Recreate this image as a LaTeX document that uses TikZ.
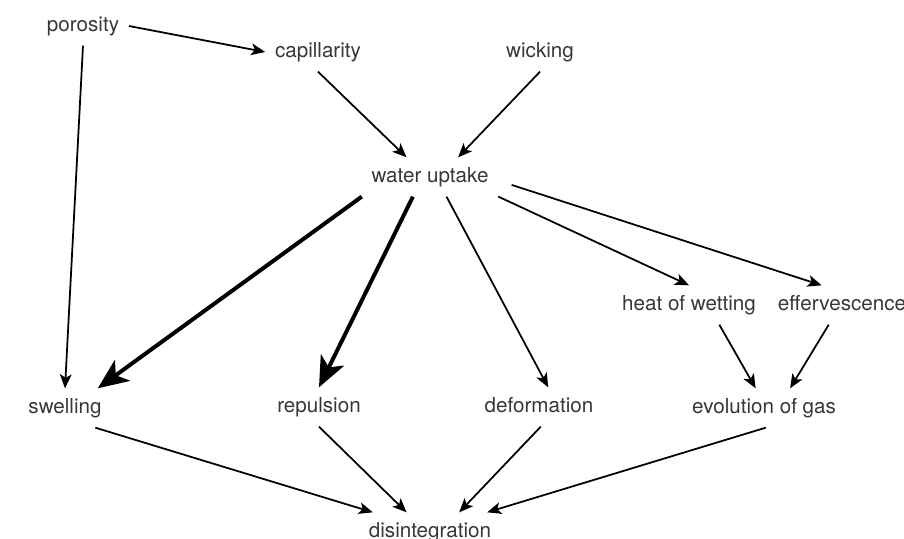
\documentclass[tikz,border=0pt]{standalone}
\usepackage{fontspec}
\setmainfont{TeX Gyre Heros}
\usepackage{tikz}
\usetikzlibrary{arrows.meta}
\definecolor{labelgray}{RGB}{55,55,55}

\begin{document}
\begin{tikzpicture}[x = 0.015cm , y = -0.015cm ,
    term/.style = {inner sep = 4pt , text height = 6.5pt , text depth = 1.9pt ,
                   text = labelgray , font = \fontsize{8.8}{10}\selectfont} ,
    link/.style = {line width = 0.75pt , -{Stealth[length = 6pt , width = 5pt , inset = 1.5pt]}} ,
    strong/.style = {line width = 1.7pt , -{Stealth[length = 13pt , width = 11pt , inset = 3.5pt]}}]
    \useasboundingbox (0,0) rectangle (904,539);
    % Ετικέτες
    \node[term] (poro) at (83,26) {porosity};
    \node[term] (cap) at (318,52) {capillarity};
    \node[term] (wick) at (540,52) {wicking};
    \node[term] (wu) at (430,177) {water uptake};
    \node[term] (heat) at (689,305) {heat of wetting};
    \node[term] (eff) at (842,305) {effervescence};
    \node[term] (swel) at (65,408) {swelling};
    \node[term] (rep) at (319,407) {repulsion};
    \node[term] (def) at (539,407) {deformation};
    \node[term] (evo) at (764,408) {evolution of gas};
    \node[term] (dis) at (430,532) {disintegration};
    % Βέλη
    \draw[link] (poro.east) -- (cap.west);
    \draw[link] (poro.south) -- (swel.north);
    \draw[link] (cap.south) -- (wu.140);
    \draw[link] (wick.south) -- (wu.35);
    \draw[strong] (wu.south west) -- (swel.31);
    \draw[strong] (wu.-131) -- (rep.north);
    \draw[link] (wu.-50) -- (def.65);
    \draw[link] (wu.-16) -- (heat.north);
    \draw[link , shorten <= 6pt] (wu.-3) -- (eff.136);
    \draw[link] (heat.-33) -- (evo.113);
    \draw[link] (eff.-124) -- (evo.37);
    \draw[link] (swel.-33) -- (dis.161);
    \draw[link] (rep.south) -- (dis.140);
    \draw[link] (def.-85) -- (dis.34);
    \draw[link] (evo.-85) -- (dis.19);
\end{tikzpicture}
\end{document}
